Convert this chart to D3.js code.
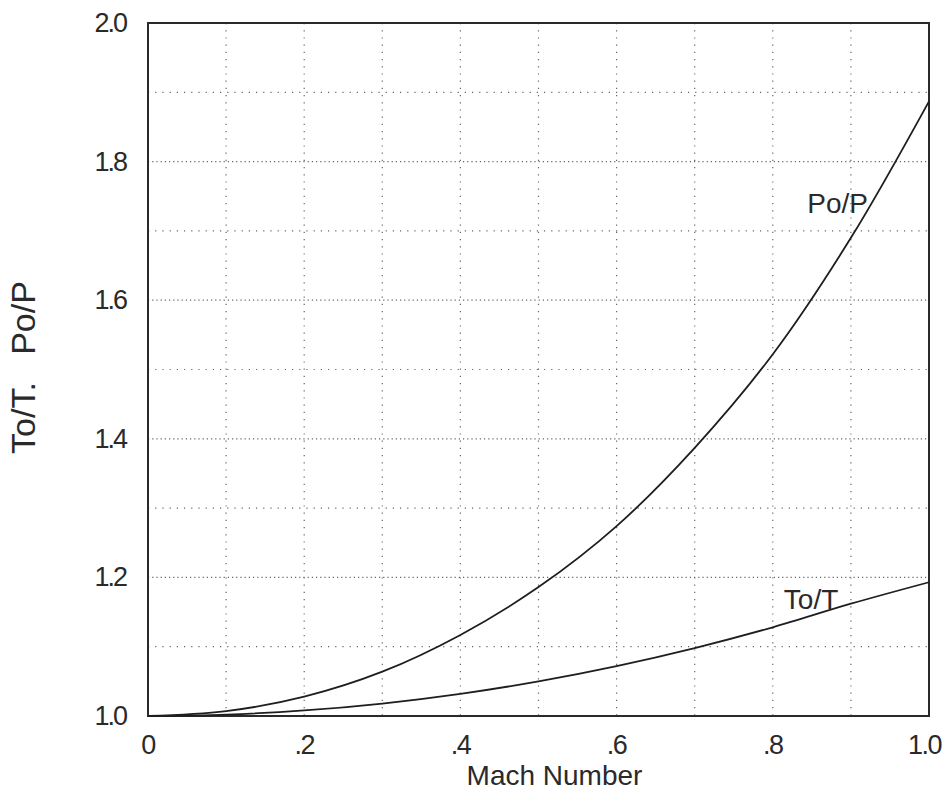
<!DOCTYPE html>
<html>
<head>
<meta charset="utf-8">
<script src="https://cdn.jsdelivr.net/npm/d3@7"></script>
<style>
  body { margin: 0; background: #fff; overflow: hidden; }
  svg { display: block; }
  svg text { font-family: "Liberation Sans", Arial, sans-serif; fill: #2a2a2a; }
</style>
</head>
<body>
<svg width="943" height="792"></svg>
<script>
// Mach number vs stagnation ratios
const mach = [0, 0.1, 0.2, 0.3, 0.4, 0.5, 0.6, 0.7, 0.8, 0.9, 1.0];
const poP  = [1.0, 1.007, 1.028, 1.064, 1.117, 1.186, 1.274, 1.387, 1.522, 1.69, 1.887];
const toT  = [1.0, 1.002, 1.008, 1.018, 1.032, 1.05, 1.072, 1.098, 1.128, 1.162, 1.193];

const xTicks = [0, 0.2, 0.4, 0.6, 0.8, 1.0];
const xTickLabels = ["0", ".2", ".4", ".6", ".8", "1.0"];
const yTicks = [1.0, 1.2, 1.4, 1.6, 1.8, 2.0];
const yTickLabels = ["1.0", "1.2", "1.4", "1.6", "1.8", "2.0"];
const gridX = [0.1, 0.2, 0.3, 0.4, 0.5, 0.6, 0.7, 0.8, 0.9];
const gridY = [1.1, 1.2, 1.3, 1.4, 1.5, 1.6, 1.7, 1.8, 1.9];

const svg = d3.select('svg');
const margin = { top: 23, right: 14, bottom: 76, left: 148 };
const width = +svg.attr('width');
const height = +svg.attr('height');
const innerWidth = width - margin.left - margin.right;
const innerHeight = height - margin.top - margin.bottom;

const xScale = d3.scaleLinear().domain([0, 1]).range([0, innerWidth]);
const yScale = d3.scaleLinear().domain([1, 2]).range([innerHeight, 0]);

const g = svg.append('g')
  .attr('transform', `translate(${margin.left},${margin.top})`);

// dotted grid
g.selectAll('.gx').data(gridX).enter().append('line')
  .attr('class', 'gx')
  .attr('x1', d => xScale(d)).attr('x2', d => xScale(d))
  .attr('y1', 0).attr('y2', innerHeight)
  .attr('stroke', '#666').attr('stroke-width', 1.2)
  .attr('stroke-dasharray', '1.2,6');

g.selectAll('.gy').data(gridY).enter().append('line')
  .attr('class', 'gy')
  .attr('y1', d => yScale(d)).attr('y2', d => yScale(d))
  .attr('x1', 0).attr('x2', innerWidth)
  .attr('stroke', '#666').attr('stroke-width', 1.2)
  .attr('stroke-dasharray', (d, i) => i % 2 === 1 ? '1.2,3' : '1.2,6');

// frame
g.append('rect')
  .attr('width', innerWidth).attr('height', innerHeight)
  .attr('fill', 'none').attr('stroke', '#2a2a2a').attr('stroke-width', 2);

// tick labels
g.selectAll('.x-tick').data(xTicks).enter().append('text')
  .attr('class', 'x-tick')
  .attr('x', (d, i) => xScale(d) + (i === xTicks.length - 1 ? 12 : 0))
  .attr('y', innerHeight + 38)
  .attr('text-anchor', (d, i) => i === xTicks.length - 1 ? 'end' : 'middle')
  .attr('font-size', 27)
  .attr('letter-spacing', -1.5)
  .text((d, i) => xTickLabels[i]);

g.selectAll('.y-tick').data(yTicks).enter().append('text')
  .attr('class', 'y-tick')
  .attr('x', -22)
  .attr('y', d => yScale(d) + 9)
  .attr('text-anchor', 'end')
  .attr('font-size', 27)
  .attr('letter-spacing', -2)
  .text((d, i) => yTickLabels[i]);

// axis titles
g.append('text')
  .attr('x', innerWidth / 2 + 16)
  .attr('y', innerHeight + 69)
  .attr('text-anchor', 'middle')
  .attr('font-size', 28)
  .text('Mach Number');

const yTitles = [
  { text: 'To/T.', cy: 418 },
  { text: 'Po/P', cy: 318 }
];
svg.selectAll('.y-title').data(yTitles).enter().append('text')
  .attr('class', 'y-title')
  .attr('transform', d => `translate(35,${d.cy}) rotate(-90)`)
  .attr('text-anchor', 'middle')
  .attr('font-size', 34)
  .text(d => d.text);

// curves
const line = d3.line()
  .x(d => xScale(d[0]))
  .y(d => yScale(d[1]))
  .curve(d3.curveCatmullRom);

const series = [
  { name: 'Po/P', values: mach.map((m, i) => [m, poP[i]]), lx: 0.883, ly: 1.726 },
  { name: 'To/T', values: mach.map((m, i) => [m, toT[i]]), lx: 0.849, ly: 1.154 }
];

g.selectAll('.curve').data(series).enter().append('path')
  .attr('class', 'curve')
  .attr('d', d => line(d.values))
  .attr('fill', 'none')
  .attr('stroke', '#1e1e1e')
  .attr('stroke-width', 1.8);

g.selectAll('.curve-label').data(series).enter().append('text')
  .attr('class', 'curve-label')
  .attr('x', d => xScale(d.lx))
  .attr('y', d => yScale(d.ly))
  .attr('text-anchor', 'middle')
  .attr('font-size', 28)
  .text(d => d.name);
</script>
</body>
</html>
